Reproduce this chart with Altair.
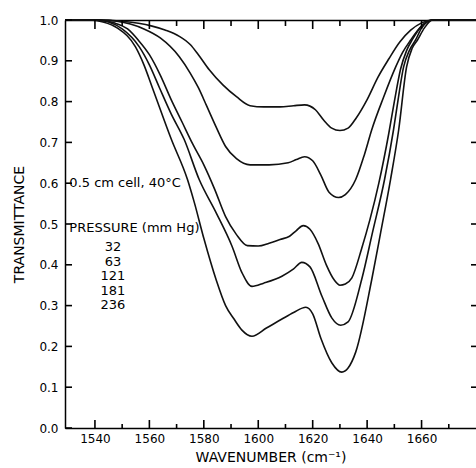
import altair as alt
import pandas as pd

pressures = ["32", "63", "121", "181", "236"]

wn_32 = [1529, 1542, 1550, 1556, 1561, 1566, 1571, 1575, 1578, 1582, 1587, 1592, 1597, 1602, 1608, 1613, 1617, 1621, 1624, 1627, 1630, 1633, 1636, 1640, 1644, 1648, 1652, 1656, 1660, 1664, 1670, 1680]
tr_32 = [1.0, 1.0, 0.997, 0.992, 0.985, 0.975, 0.96, 0.94, 0.915, 0.878, 0.841, 0.812, 0.79, 0.787, 0.787, 0.79, 0.792, 0.78, 0.755, 0.735, 0.729, 0.735, 0.76, 0.805, 0.86, 0.905, 0.946, 0.975, 0.993, 1.0, 1.0, 1.0]

wn_63 = [1529, 1542, 1548, 1553, 1558, 1564, 1571, 1575, 1578, 1581, 1584.5, 1588, 1592, 1597, 1604, 1611, 1614, 1617, 1620, 1623, 1626, 1629.5, 1632, 1635.8, 1639, 1641.7, 1646, 1650.5, 1653, 1656, 1660, 1664, 1670, 1680]
tr_63 = [1.0, 1.0, 0.997, 0.99, 0.978, 0.956, 0.91, 0.87, 0.834, 0.79, 0.738, 0.69, 0.66, 0.645, 0.645, 0.65, 0.658, 0.665, 0.655, 0.62, 0.578, 0.565, 0.572, 0.609, 0.67, 0.731, 0.81, 0.885, 0.92, 0.951, 0.985, 1.0, 1.0, 1.0]

wn_121 = [1529, 1541, 1547, 1552, 1556, 1560, 1564, 1568, 1572, 1576, 1580, 1584, 1588, 1592, 1596, 1600, 1604, 1608, 1611.5, 1614, 1616.5, 1619, 1622, 1625, 1628, 1630, 1632, 1634.4, 1638, 1641, 1644.3, 1647.9, 1650, 1652.3, 1654.5, 1656.7, 1660, 1664, 1670, 1680]
tr_121 = [1.0, 1.0, 0.993, 0.978, 0.95, 0.915, 0.865, 0.805, 0.75, 0.695, 0.645, 0.585, 0.518, 0.474, 0.447, 0.446, 0.453, 0.462, 0.47, 0.484, 0.496, 0.487, 0.452, 0.4, 0.362, 0.35, 0.353, 0.368, 0.44, 0.51, 0.6, 0.72, 0.8, 0.88, 0.925, 0.953, 0.985, 1.0, 1.0, 1.0]

wn_181 = [1529, 1540, 1545, 1550, 1556.3, 1560, 1563.7, 1568, 1572.8, 1578.3, 1584.5, 1590.4, 1594, 1597.7, 1602, 1608.7, 1613, 1616, 1619, 1623.4, 1627, 1630.3, 1633, 1638, 1642, 1646.4, 1649.7, 1651.5, 1653.4, 1655.5, 1657.8, 1660, 1664, 1670, 1680]
tr_181 = [1.0, 1.0, 0.995, 0.978, 0.934, 0.89, 0.834, 0.77, 0.707, 0.609, 0.528, 0.445, 0.381, 0.347, 0.355, 0.372, 0.39, 0.406, 0.395, 0.323, 0.27, 0.252, 0.26, 0.364, 0.48, 0.609, 0.731, 0.81, 0.885, 0.925, 0.951, 0.98, 1.0, 1.0, 1.0]

wn_236 = [1529, 1538, 1543, 1548.3, 1554.9, 1558, 1561.1, 1568.1, 1574, 1576.5, 1580, 1584.5, 1588, 1591.1, 1594, 1597.7, 1603, 1608.7, 1613, 1617.5, 1620, 1623, 1627, 1630.7, 1633, 1635.8, 1641.7, 1645, 1648.6, 1651.6, 1654.5, 1656.5, 1658.5, 1661, 1664, 1670, 1680]
tr_236 = [1.0, 1.0, 0.995, 0.98, 0.934, 0.89, 0.834, 0.707, 0.609, 0.553, 0.465, 0.364, 0.3, 0.267, 0.24, 0.225, 0.245, 0.267, 0.283, 0.296, 0.28, 0.22, 0.16, 0.137, 0.147, 0.186, 0.364, 0.48, 0.609, 0.731, 0.885, 0.93, 0.951, 0.98, 1.0, 1.0, 1.0]

x_major = [1540, 1560, 1580, 1600, 1620, 1640, 1660]
x_minor = [1550, 1570, 1590, 1610, 1630, 1650, 1670]
y_ticks = [0.0, 0.1, 0.2, 0.3, 0.4, 0.5, 0.6, 0.7, 0.8, 0.9, 1.0]
y_ticks_right = [0.1, 0.2, 0.3, 0.4, 0.5, 0.6, 0.7, 0.8, 0.9]

notes = ["0.5 cm cell, 40°C", "PRESSURE (mm Hg)"]
notes_x = [1530.6, 1530.6]
notes_y = [0.6, 0.49]

FONT = "DejaVu Sans"
X_MIN, X_MAX = 1529, 1680
xscale = alt.Scale(domain=[X_MIN, X_MAX], nice=False, zero=False)
yscale = alt.Scale(domain=[0, 1], nice=False, zero=False)

# ---- spectra ----
rows = []
for p, ws, ts in zip(pressures, [wn_32, wn_63, wn_121, wn_181, wn_236],
                     [tr_32, tr_63, tr_121, tr_181, tr_236]):
    for w, t in zip(ws, ts):
        rows.append({"wavenumber": w, "transmittance": t, "pressure": p})
df = pd.DataFrame(rows)

lines = alt.Chart(df).mark_line(color="#111111", strokeWidth=1.6, interpolate="monotone").encode(
    x=alt.X("wavenumber:Q", scale=xscale,
            axis=alt.Axis(orient="bottom", values=x_major, format="d", ticks=False, tickSize=0,
                          labelPadding=5, labelFlush=False, domain=True,
                          title="WAVENUMBER (cm⁻¹)", titlePadding=6)),
    y=alt.Y("transmittance:Q", scale=yscale,
            axis=alt.Axis(orient="left", values=y_ticks, format=".1f", ticks=False, tickSize=0,
                          labelPadding=7, domain=True, title="TRANSMITTANCE", titlePadding=12)),
    detail="pressure:N",
)

# ---- annotations ----
notes_df = pd.DataFrame({"x": notes_x, "y": notes_y, "text": notes})
notes_layer = alt.Chart(notes_df).mark_text(
    align="left", baseline="middle", font=FONT, fontSize=13, color="black"
).encode(
    x=alt.X("x:Q", scale=xscale,
            axis=alt.Axis(orient="top", labels=False, ticks=False, tickSize=0,
                          domain=True, title="")),
    y=alt.Y("y:Q", scale=yscale, axis=None),
    text="text:N",
)

plist_df = pd.DataFrame({"x": [1546.6], "y": [0.458]})
plist_layer = alt.Chart(plist_df).mark_text(
    align="center", baseline="top", font=FONT, fontSize=13, color="black",
    lineHeight=14.5, text=pressures
).encode(
    x=alt.X("x:Q", scale=xscale, axis=None),
    y=alt.Y("y:Q", scale=yscale, axis=None),
)

# ---- inward tick marks (positions through the scales) ----
def xticks(values, at, length):
    d = pd.DataFrame({"v": values})
    return alt.Chart(d).mark_rule(color="black", strokeWidth=1.6, y2Offset=length).encode(
        x=alt.X("v:Q", scale=xscale, axis=None),
        y=alt.YDatum(at, scale=yscale, axis=None),
        y2=alt.Y2Datum(at),
    )

def yticks(values, at, length):
    d = pd.DataFrame({"v": values})
    return alt.Chart(d).mark_rule(color="black", strokeWidth=1.6, x2Offset=length).encode(
        y=alt.Y("v:Q", scale=yscale, axis=None),
        x=alt.XDatum(at, scale=xscale, axis=None),
        x2=alt.X2Datum(at),
    )

tick_layers = [
    xticks(x_major, 0, -8),
    xticks(x_minor, 0, -4),
    xticks(x_major, 1, 9),
    xticks(x_minor, 1, 6),
    yticks(y_ticks, X_MIN, 7),
    yticks(y_ticks_right, X_MAX, -5),
]

chart = alt.layer(lines, notes_layer, plist_layer, *tick_layers).resolve_axis(
    x="independent", y="independent"
).properties(
    width=411, height=408,
    padding={"left": 65, "top": 20, "right": 0, "bottom": 40},
    autosize=alt.AutoSizeParams(type="none"),
).configure_view(strokeWidth=0).configure_axis(
    labelFont=FONT, titleFont=FONT, labelFontSize=12, titleFontSize=14,
    titleFontWeight="normal", labelColor="black", titleColor="black",
    domainColor="black", tickColor="black", domainWidth=1.5, tickWidth=1.5,
    grid=False,
)

chart.save("out.html", embed_options={"renderer": "svg", "actions": False})
